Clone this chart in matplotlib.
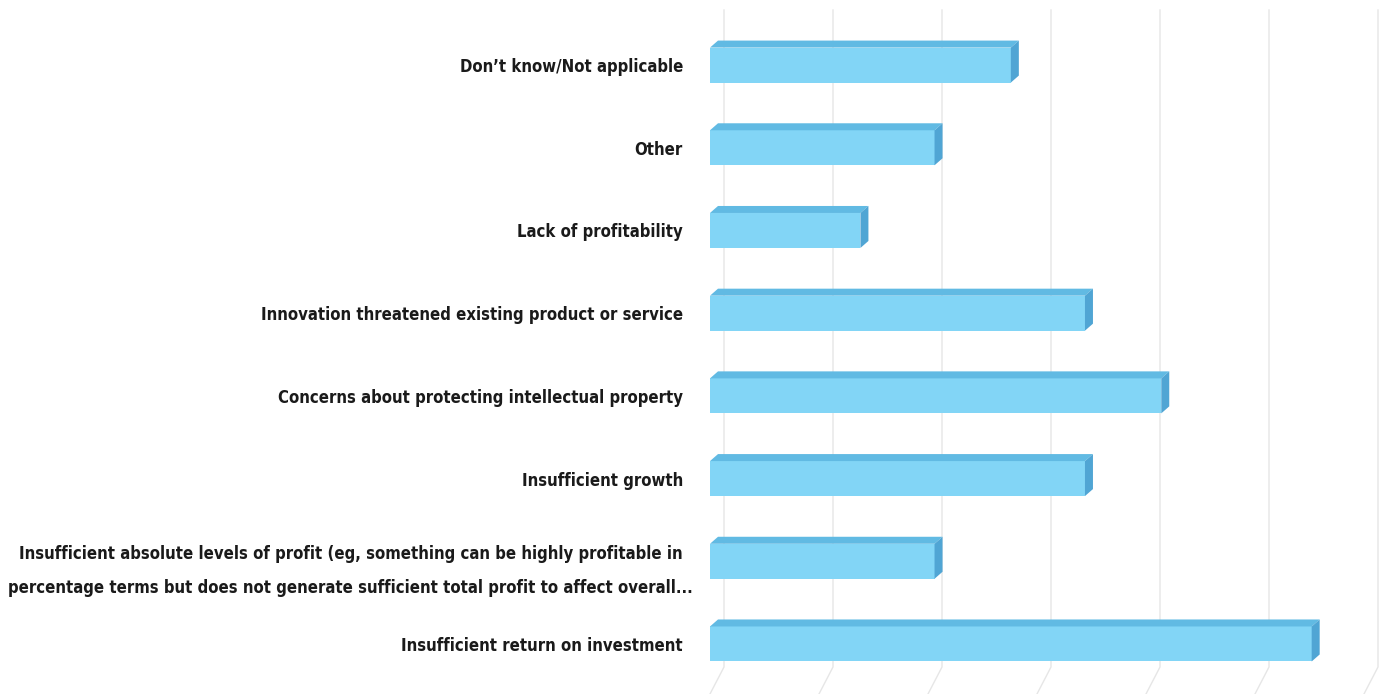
import numpy as np
import matplotlib.pyplot as plt
from matplotlib.patches import Polygon
from matplotlib.transforms import ScaledTranslation

# Reasons given (bottom to top) and share of respondents, %
categories = [
    'Insufficient return on investment',
    'Insufficient absolute levels of profit (eg, something can be highly profitable in\n'
    'percentage terms but does not generate sufficient total profit to affect overall...',
    'Insufficient growth',
    'Concerns about protecting intellectual property',
    'Innovation threatened existing product or service',
    'Lack of profitability',
    'Other',
    "Don\u2019t know/Not applicable",
]
values = [27.6, 10.3, 17.2, 20.7, 17.2, 6.9, 10.3, 13.8]
grid_values = [0, 5, 10, 15, 20, 25, 30]

front_col = '#82d5f6'
top_col = '#61bae3'
side_col = '#50a5d4'
grid_col = '#e6e6e6'

plt.rcParams['font.family'] = ['DejaVu Sans']
plt.rcParams['font.stretch'] = 'condensed'

fig = plt.figure(figsize=(13.83, 6.94), dpi=100)
ax = fig.add_axes([710 / 1383, 0, 654 / 1383, 684 / 694])
ax.set_xlim(0, 30)
ax.set_ylim(-0.605, 7.666)

# pixel -> data unit conversion for the 3-D offsets
px_x = ax.bbox.width / 30
px_y = ax.bbox.height / (7.666 + 0.605)
wall_dx = 14 / px_x
floor_y = -0.605 + 27 / px_y
bar_dx = 8 / px_x
bar_dy = 7 / px_y
bar_h = 35 / px_y

# back wall gridlines with slanted floor segment
for g in grid_values:
    ax.plot([g + wall_dx, g + wall_dx, g], [7.666, floor_y, -0.605],
            color=grid_col, lw=1.0, zorder=0, clip_on=False)

ypos = np.arange(len(categories))
ax.barh(ypos, values, height=bar_h, color=front_col, edgecolor='none', zorder=3)

for y, v in zip(ypos, values):
    top = y + bar_h / 2
    bot = y - bar_h / 2
    ax.add_patch(Polygon([(0, top), (v, top), (v + bar_dx, top + bar_dy), (bar_dx, top + bar_dy)],
                         closed=True, facecolor=top_col, edgecolor='none', zorder=3))
    ax.add_patch(Polygon([(v, bot), (v + bar_dx, bot + bar_dy), (v + bar_dx, top + bar_dy), (v, top)],
                         closed=True, facecolor=side_col, edgecolor='none', zorder=3))

ax.set_yticks(ypos, labels=categories)
ax.tick_params(axis='y', length=0, pad=19.5, labelsize=12, labelcolor='#1a1a1a')
for lab in ax.get_yticklabels():
    lab.set_fontweight('bold')
    lab.set_multialignment('center')
    lab.set_linespacing(2.1)
# the wrapped label sits a little further right
long_lab = ax.get_yticklabels()[1]
long_lab.set_transform(long_lab.get_transform() + ScaledTranslation(10 / 100, 0, fig.dpi_scale_trans))
ax.set_xticks([])
for s in ax.spines.values():
    s.set_visible(False)

fig.savefig('out.png', dpi=100)
